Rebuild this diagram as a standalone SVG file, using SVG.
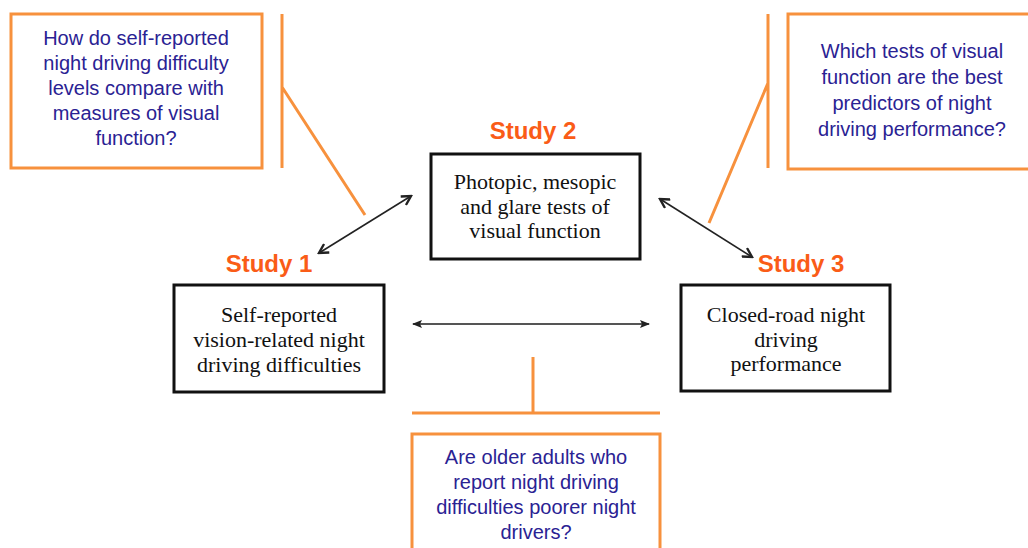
<svg xmlns="http://www.w3.org/2000/svg" width="1028" height="548" viewBox="0 0 1028 548">
<style>
.bg{fill:#ffffff}
.callout{fill:#ffffff;stroke:#F7913D;stroke-width:3}
.lead{fill:none;stroke:#F7913D;stroke-width:3}
.q{font-family:"Liberation Sans",Arial,sans-serif;font-size:20px;fill:#2A2293;text-anchor:middle}
.box{fill:#ffffff;stroke:#111111;stroke-width:3}
.bt{font-family:"Liberation Serif","Times New Roman",serif;font-size:22px;fill:#111111;text-anchor:middle}
.study{font-family:"Liberation Sans",Arial,sans-serif;font-size:24px;font-weight:bold;fill:#FA5C17;text-anchor:middle}
.conn{fill:none;stroke:#222222;stroke-width:1.6}
.hconn{fill:none;stroke:#555555;stroke-width:2}
</style>
<defs>
<marker id="chev" viewBox="0 0 12 12" refX="10" refY="6" markerWidth="12" markerHeight="12" markerUnits="userSpaceOnUse" orient="auto-start-reverse">
<path d="M1,1 L10,6 L1,11" fill="none" stroke="#222222" stroke-width="2.4"/>
</marker>
<marker id="tri" viewBox="0 0 10 10" refX="9" refY="5" markerWidth="10" markerHeight="10" markerUnits="userSpaceOnUse" orient="auto-start-reverse">
<path d="M0,1 L10,5 L0,9 L2,5 Z" fill="#222222"/>
</marker>
</defs>
<rect class="bg" x="0" y="0" width="1028" height="548"/>

<g id="q1">
<rect class="callout" x="11" y="14" width="251" height="154"/>
<text class="q" x="136" y="45">How do self-reported</text>
<text class="q" x="136" y="70">night driving difficulty</text>
<text class="q" x="136" y="95">levels compare with</text>
<text class="q" x="136" y="120">measures of visual</text>
<text class="q" x="136" y="145">function?</text>
<path class="lead" d="M282,14 L282,168 M282,87 L365,215"/>
</g>

<g id="q3">
<rect class="callout" x="788" y="14" width="250" height="155"/>
<text class="q" x="912" y="58">Which tests of visual</text>
<text class="q" x="912" y="84">function are the best</text>
<text class="q" x="912" y="110">predictors of night</text>
<text class="q" x="912" y="136">driving performance?</text>
<path class="lead" d="M768,14 L768,168 M768,83 L709,223"/>
</g>

<g id="q2">
<rect class="callout" x="412" y="434" width="248" height="130"/>
<text class="q" x="536" y="464">Are older adults who</text>
<text class="q" x="536" y="489">report night driving</text>
<text class="q" x="536" y="514">difficulties poorer night</text>
<text class="q" x="536" y="539">drivers?</text>
<path class="lead" d="M412,413 L660,413 M533,357 L533,413"/>
</g>

<g id="study2">
<text class="study" x="533" y="139">Study 2</text>
<rect class="box" x="431" y="154" width="209" height="105"/>
<text class="bt" x="535" y="189">Photopic, mesopic</text>
<text class="bt" x="535" y="214">and glare tests of</text>
<text class="bt" x="535" y="238">visual function</text>
</g>

<g id="study1">
<text class="study" x="269" y="272">Study 1</text>
<rect class="box" x="174" y="285" width="210" height="107"/>
<text class="bt" x="279" y="322">Self-reported</text>
<text class="bt" x="279" y="347">vision-related night</text>
<text class="bt" x="279" y="372">driving difficulties</text>
</g>

<g id="study3">
<text class="study" x="801" y="272">Study 3</text>
<rect class="box" x="681" y="285" width="209" height="106"/>
<text class="bt" x="786" y="322">Closed-road night</text>
<text class="bt" x="786" y="347">driving</text>
<text class="bt" x="786" y="371">performance</text>
</g>

<g id="connectors">
<line class="conn" x1="319" y1="253" x2="411" y2="196" marker-start="url(#chev)" marker-end="url(#chev)"/>
<line class="conn" x1="660" y1="199" x2="752" y2="257" marker-start="url(#chev)" marker-end="url(#chev)"/>
<line class="hconn" x1="413" y1="324" x2="649" y2="324" marker-start="url(#tri)" marker-end="url(#tri)"/>
</g>
</svg>
